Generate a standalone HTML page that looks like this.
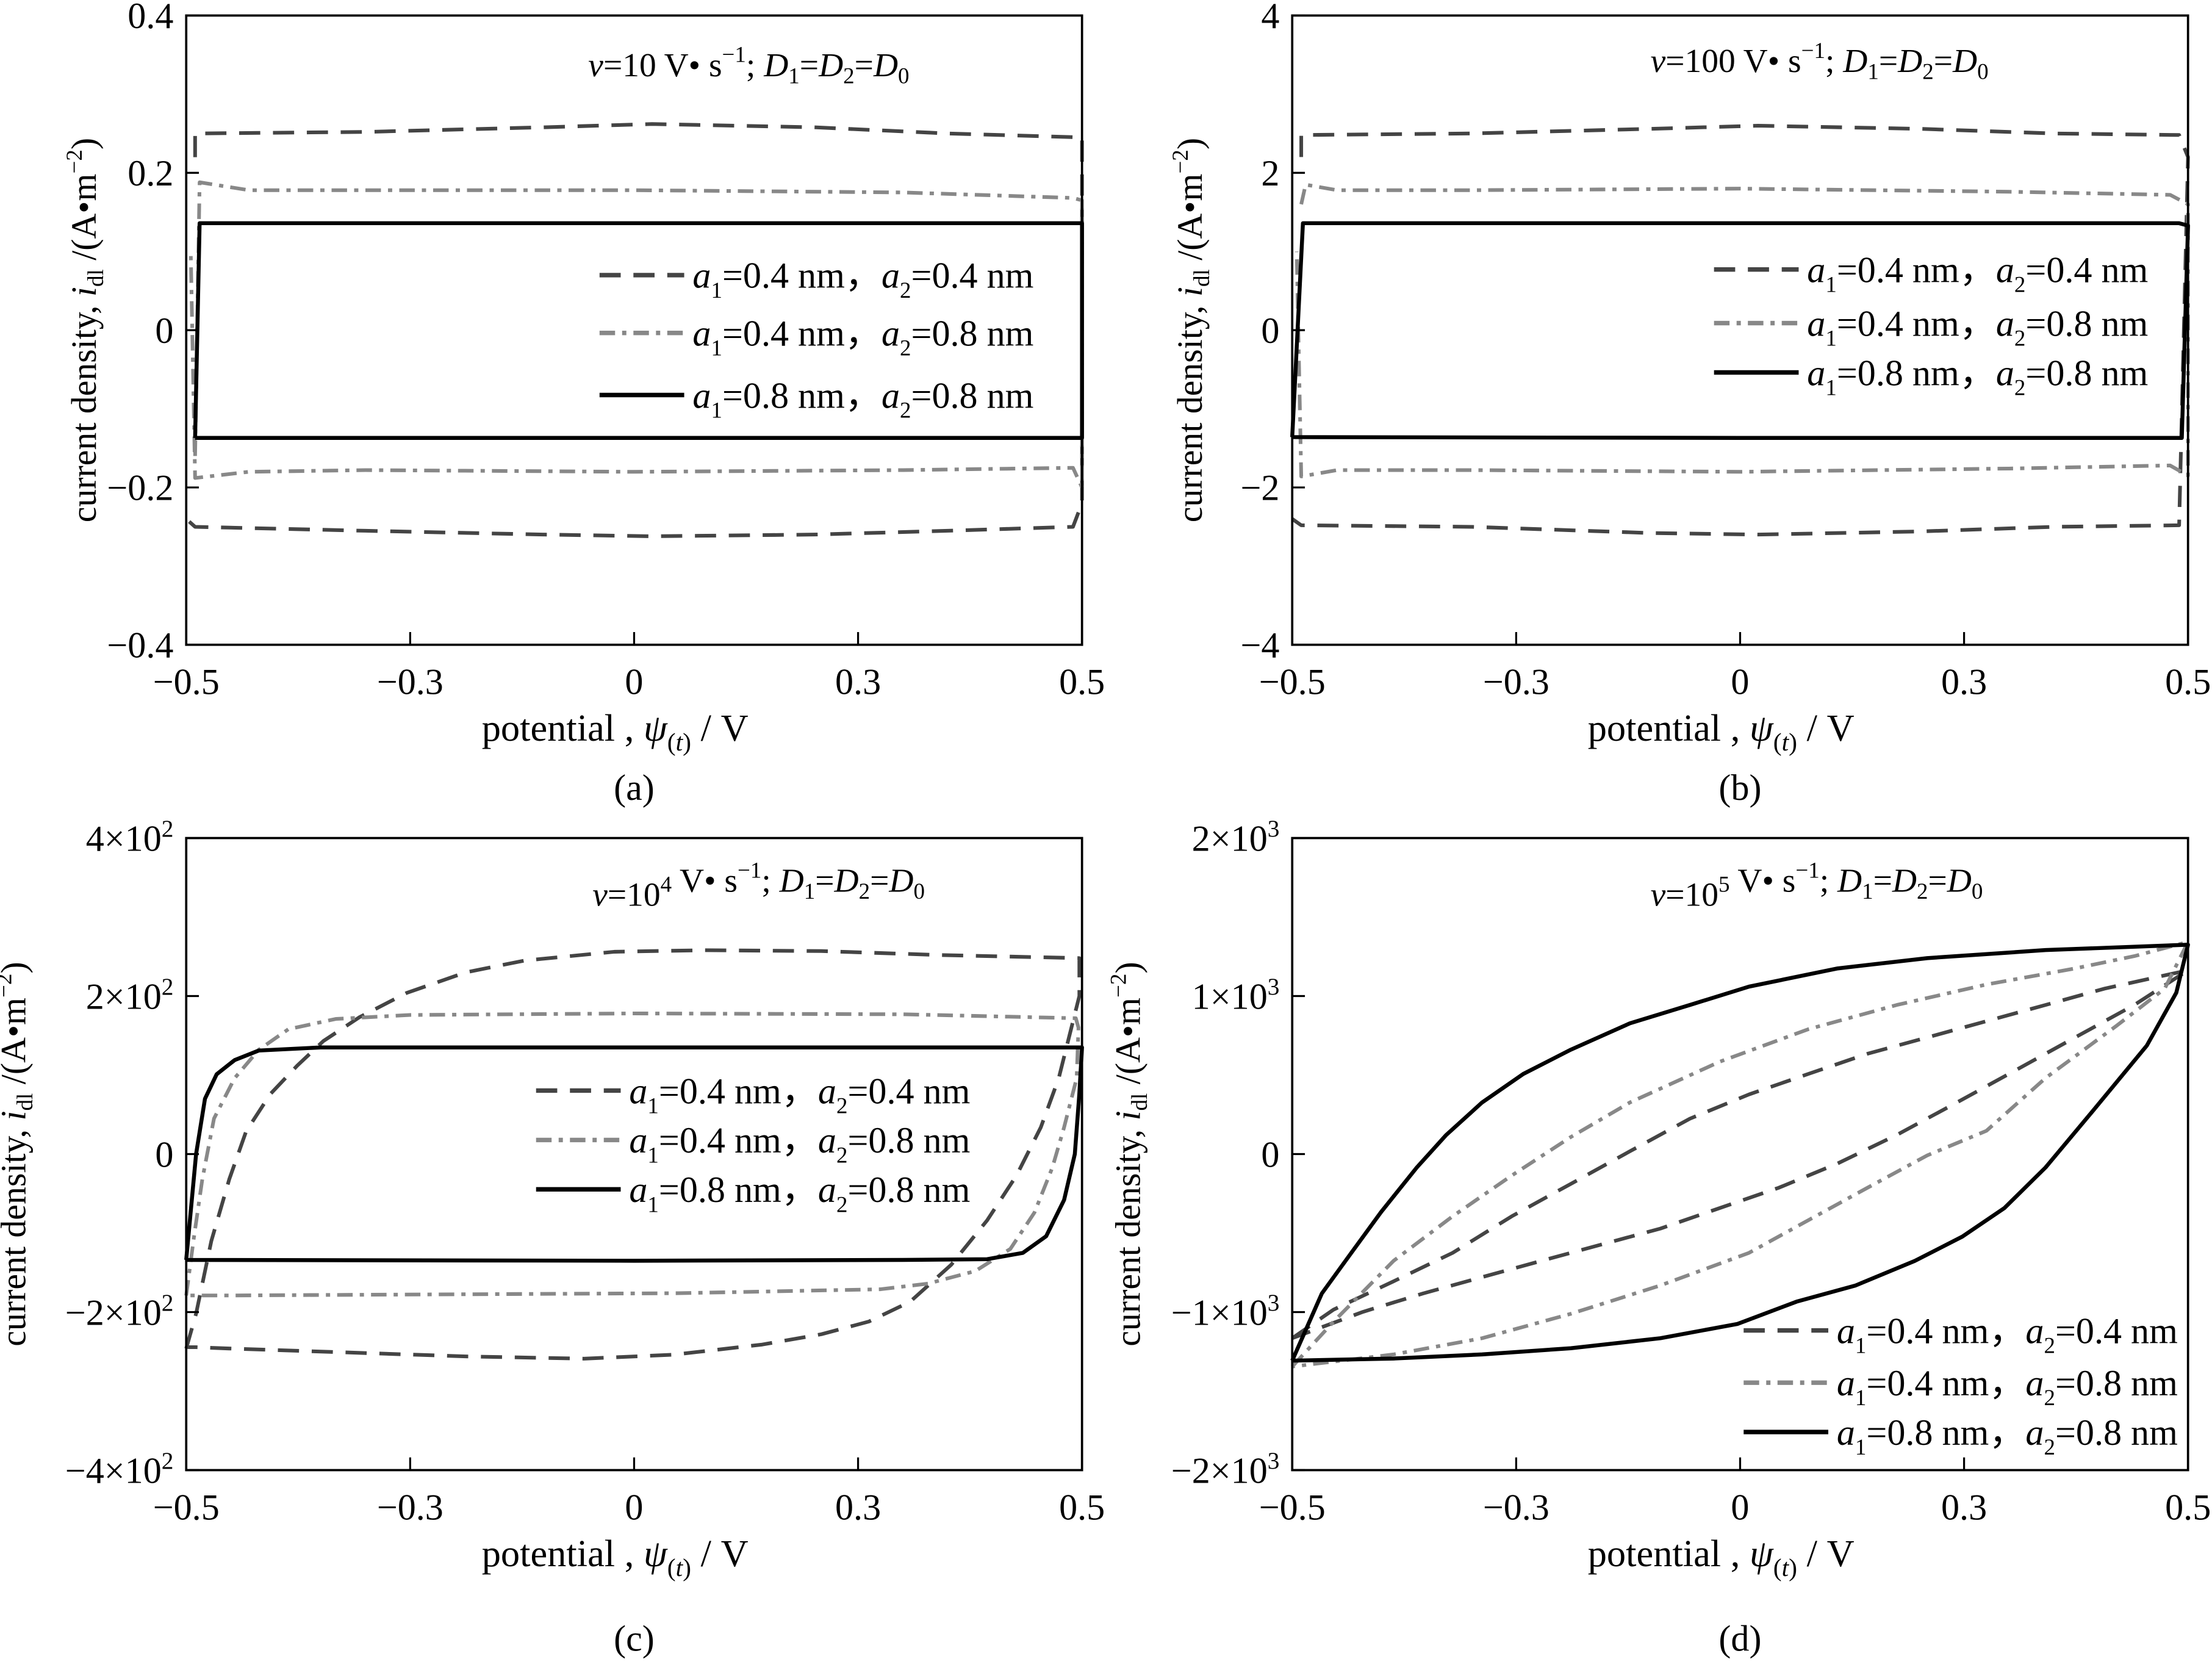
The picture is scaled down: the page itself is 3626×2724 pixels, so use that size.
<!DOCTYPE html>
<html><head><meta charset="utf-8"><style>
html,body{margin:0;padding:0;background:#fff}
svg{display:block}
text{font-family:"Liberation Serif",serif;fill:#000}
</style></head><body>
<svg id="fig" xmlns="http://www.w3.org/2000/svg" width="3626" height="2724" viewBox="0 0 1568 1178" preserveAspectRatio="none">
<rect width="1568" height="1178" fill="#fff"/>
</svg>
<script>
// ---------- data ----------
const xTickValues = [-0.5, -0.25, 0, 0.25, 0.5];
const xTickLabels = ["\u22120.5", "\u22120.3", "0", "0.3", "0.5"];

const yTicksA = [-0.4, -0.2, 0, 0.2, 0.4];
const yLabelsA = ["\u22120.4", "\u22120.2", "0", "0.2", "0.4"];
const yTicksB = [-4, -2, 0, 2, 4];
const yLabelsB = ["\u22124", "\u22122", "0", "2", "4"];
const yTicksC = [-400, -200, 0, 200, 400];
const yLabelsC = [["\u22124\u00d710","2"], ["\u22122\u00d710","2"], ["0",""], ["2\u00d710","2"], ["4\u00d710","2"]];
const yTicksD = [-2000, -1000, 0, 1000, 2000];
const yLabelsD = [["\u22122\u00d710","3"], ["\u22121\u00d710","3"], ["0",""], ["1\u00d710","3"], ["2\u00d710","3"]];

// panel (a): v = 10 V/s
const aDashX = [-0.49,-0.49,-0.3,-0.1,0.02,0.2,0.35,0.5,0.5,0.49,0.35,0.2,0.02,-0.1,-0.3,-0.49,-0.5];
const aDashY = [0.22,0.25,0.252,0.258,0.262,0.258,0.25,0.245,-0.22,-0.25,-0.255,-0.26,-0.262,-0.26,-0.255,-0.25,-0.24];
const aDotX = [-0.49,-0.485,-0.43,-0.3,0,0.3,0.49,0.5,0.5,0.49,0.3,0,-0.3,-0.43,-0.49,-0.495];
const aDotY = [-0.16,0.188,0.178,0.178,0.178,0.175,0.168,0.165,-0.2,-0.175,-0.178,-0.18,-0.178,-0.18,-0.188,0.1];
const aSolidX = [-0.49,-0.485,0,0.5,0.5,0.49,0,-0.49];
const aSolidY = [-0.137,0.136,0.136,0.136,-0.137,-0.137,-0.137,-0.137];

// panel (b): v = 100 V/s
const bDashX = [-0.49,-0.49,-0.3,-0.1,0.02,0.2,0.35,0.49,0.5,0.49,0.35,0.2,0.02,-0.1,-0.3,-0.49,-0.5];
const bDashY = [2.2,2.48,2.5,2.56,2.6,2.56,2.5,2.48,2.2,-2.48,-2.5,-2.56,-2.6,-2.58,-2.5,-2.48,-2.4];
const bDotX = [-0.49,-0.485,-0.45,-0.3,0,0.3,0.48,0.5,0.5,0.48,0.3,0,-0.3,-0.45,-0.49,-0.495];
const bDotY = [1.6,1.85,1.78,1.78,1.8,1.76,1.72,1.6,-1.85,-1.72,-1.76,-1.8,-1.78,-1.78,-1.86,1.0];
const bSolidX = [-0.5,-0.488,0,0.49,0.5,0.493,0,-0.5];
const bSolidY = [-1.36,1.36,1.36,1.36,1.33,-1.37,-1.37,-1.36];

// panel (c): v = 1e4 V/s
const cDashX = [-0.5,-0.489,-0.472,-0.452,-0.433,-0.406,-0.376,-0.347,-0.307,-0.254,-0.188,-0.122,-0.022,0.077,0.209,0.341,0.497,0.497,0.474,0.454,0.427,0.394,0.354,0.308,0.262,0.209,0.143,0.044,-0.056,-0.188,-0.32,-0.452,-0.5];
const cDashY = [-246,-202,-110,-32,29,76,112,143,173,204,230,245,256,258,257,252,248,200,96,34,-27,-84,-140,-187,-212,-228,-241,-254,-259,-256,-251,-246,-244];
const cDotX = [-0.5,-0.492,-0.482,-0.469,-0.446,-0.419,-0.386,-0.333,-0.25,0,0.3,0.493,0.496,0.494,0.48,0.467,0.447,0.42,0.381,0.328,0.275,0.05,-0.3,-0.45,-0.5];
const cDotY = [-179,-110,-32,45,96,132,158,171,176,178,177,172,160,96,34,-17,-74,-120,-148,-164,-171,-176,-178,-179,-179];
const cSolidX = [-0.5,-0.489,-0.479,-0.466,-0.446,-0.419,-0.35,0,0.5,0.497,0.492,0.48,0.46,0.434,0.394,0.3,0,-0.5];
const cSolidY = [-134,0,70,101,119,131,135,135,135,76,0,-58,-104,-125,-133,-134,-135,-134];

// panel (d): v = 1e5 V/s
const dDashX = [-0.5,-0.454,-0.387,-0.321,-0.255,-0.189,-0.123,-0.056,0.01,0.076,0.142,0.209,0.275,0.341,0.407,0.5,0.44,0.374,0.308,0.242,0.175,0.109,0.043,-0.023,-0.089,-0.156,-0.222,-0.288,-0.354,-0.421,-0.5];
const dDashY = [-1165,-985,-805,-625,-394,-188,18,224,378,507,635,738,841,944,1047,1163,944,738,532,327,121,-59,-213,-342,-471,-574,-676,-779,-882,-998,-1165];
const dDotX = [-0.5,-0.454,-0.387,-0.321,-0.255,-0.189,-0.123,-0.023,0.076,0.175,0.275,0.374,0.44,0.5,0.474,0.421,0.341,0.275,0.209,0.142,0.076,0.01,-0.089,-0.189,-0.288,-0.387,-0.5];
const dDotY = [-1345,-1062,-676,-394,-136,108,327,584,790,944,1073,1175,1253,1343,1047,815,481,147,-8,-213,-419,-625,-831,-1011,-1165,-1268,-1345];
const dSolidX = [-0.5,-0.467,-0.434,-0.401,-0.361,-0.328,-0.288,-0.242,-0.189,-0.123,-0.056,0.01,0.109,0.209,0.341,0.5,0.487,0.454,0.394,0.341,0.295,0.248,0.195,0.129,0.063,-0.003,-0.089,-0.189,-0.288,-0.387,-0.5];
const dSolidY = [-1307,-882,-625,-368,-85,121,327,507,661,828,944,1060,1175,1240,1291,1325,1021,687,275,-85,-342,-522,-676,-831,-934,-1075,-1165,-1229,-1268,-1294,-1307];

// ---------- drawing ----------
const NS = "http://www.w3.org/2000/svg";
const svg = document.getElementById("fig");
function el(tag, attrs, parent) {
  const e = document.createElementNS(NS, tag);
  for (const k in attrs) e.setAttribute(k, attrs[k]);
  (parent || svg).appendChild(e);
  return e;
}
const styles = {
  dash: {stroke: "#444", "stroke-width": 2.6, "stroke-dasharray": "15 9"},
  dot: {stroke: "#888", "stroke-width": 2.6, "stroke-dasharray": "11 5 3 5"},
  solid: {stroke: "#000", "stroke-width": 2.8}
};
const legendLabels = [["0.4","0.4"],["0.4","0.8"],["0.8","0.8"]];

function panel(cfg) {
  const g = el("g", {});
  
  
  const sx = v => cfg.L + (v + 0.5) * (cfg.R - cfg.L);
  const sy = v => cfg.B - (v - cfg.ymin) / (cfg.ymax - cfg.ymin) * (cfg.B - cfg.T);
  cfg.series.forEach((s, i) => {
    let d = "";
    for (let k = 0; k < s.x.length; k++) d += (k ? "L" : "M") + sx(s.x[k]).toFixed(1) + " " + sy(s.y[k]).toFixed(1);
    const p = el("path", Object.assign({d: d, fill: "none", "stroke-linejoin": "round"}, styles[s.style]), g);
    
    
  });
  const fr = el("rect", {x: cfg.L, y: cfg.T, width: cfg.R - cfg.L, height: cfg.B - cfg.T, fill: "none", stroke: "#000", "stroke-width": 1.6}, g);
  
  
  xTickValues.forEach((v, i) => {
    const x = sx(v);
    const t = el("line", {x1: x, x2: x, y1: cfg.B, y2: cfg.B - 9, stroke: "#000", "stroke-width": 1.4}, g);
    
    
    const lb = el("text", {x: x, y: cfg.B + 35, "font-size": 26, "text-anchor": "middle"}, g);
    lb.textContent = xTickLabels[i];
    
    
  });
  cfg.yticks.forEach((v, i) => {
    const y = sy(v);
    const t = el("line", {x1: cfg.L, x2: cfg.L + 9, y1: y, y2: y, stroke: "#000", "stroke-width": 1.4}, g);
    
    
    const lb = el("text", {x: cfg.L - 9, y: y + 9, "font-size": 26, "text-anchor": "end"}, g);
    
    
    const l = cfg.ylabels[i];
    if (Array.isArray(l)) {
      const a = el("tspan", {}, lb); a.textContent = l[0];
      if (l[1]) { const b = el("tspan", {dy: -10, "font-size": 17}, lb); b.textContent = l[1]; }
    } else lb.textContent = l;
  });
  const cy = (cfg.T + cfg.B) / 2, ylx = cfg.L - cfg.ytOff;
  const yt = el("text", {x: ylx, y: cy, "font-size": 25, "text-anchor": "middle", transform: "rotate(-90 " + ylx + " " + cy + ")"}, g);
  
  
  yt.innerHTML = 'current density, <tspan font-style="italic">i</tspan><tspan font-size="16" dy="5">dl</tspan><tspan dy="-5"> /(A\u2022m</tspan><tspan font-size="16" dy="-10">\u22122</tspan><tspan dy="10">)</tspan>';
  const cx = (cfg.L + cfg.R) / 2;
  const xt = el("text", {x: cx - 108, y: cfg.B + 68, "font-size": 27}, g);
  
  
  xt.innerHTML = 'potential , <tspan font-style="italic">\u03c8</tspan><tspan font-size="18" dy="7">(<tspan font-style="italic">t</tspan>)</tspan><tspan dy="-7"> / V</tspan>';
  const cap = el("text", {x: cx, y: cfg.capY, "font-size": 26, "text-anchor": "middle"}, g);
  cap.textContent = cfg.caption;
  
  
  const an = el("text", {x: cfg.annX, y: cfg.annY, "font-size": 24}, g);
  
  
  an.innerHTML = '<tspan font-style="italic">v</tspan>=' + cfg.ann + ' V\u2022 s<tspan font-size="16" dy="-10">\u22121</tspan><tspan dy="10">; </tspan><tspan font-style="italic">D</tspan><tspan font-size="16" dy="5">1</tspan><tspan dy="-5">=</tspan><tspan font-style="italic">D</tspan><tspan font-size="16" dy="5">2</tspan><tspan dy="-5">=</tspan><tspan font-style="italic">D</tspan><tspan font-size="16" dy="5">0</tspan>';
  ["dash","dot","solid"].forEach((st, i) => {
    const y = cfg.legY[i];
    const ln = el("line", Object.assign({x1: cfg.legX, x2: cfg.legX + 60, y1: y, y2: y}, styles[st], {"stroke-width": 3.2}), g);
    
    
    const tx = el("text", {x: cfg.legX + 66, y: y + 9, "font-size": 26}, g);
    
    
    tx.innerHTML = '<tspan font-style="italic">a</tspan><tspan font-size="16" dy="7">1</tspan><tspan dy="-7">=' + legendLabels[i][0] + ' nm\uff0c</tspan><tspan font-style="italic">a</tspan><tspan font-size="16" dy="7">2</tspan><tspan dy="-7">=' + legendLabels[i][1] + ' nm</tspan>';
  });
}

panel({name: "panel-a", L: 132, R: 767, T: 11, B: 457, ymin: -0.4, ymax: 0.4, yticks: yTicksA, ylabels: yLabelsA, ytOff: 64,
  series: [{x: aDashX, y: aDashY, style: "dash"}, {x: aDotX, y: aDotY, style: "dot"}, {x: aSolidX, y: aSolidY, style: "solid"}],
  caption: "(a)", capY: 567, ann: "10", annX: 417, annY: 54, legX: 425, legY: [195, 236, 280]});
panel({name: "panel-b", L: 916, R: 1551, T: 11, B: 457, ymin: -4, ymax: 4, yticks: yTicksB, ylabels: yLabelsB, ytOff: 64,
  series: [{x: bDashX, y: bDashY, style: "dash"}, {x: bDotX, y: bDotY, style: "dot"}, {x: bSolidX, y: bSolidY, style: "solid"}],
  caption: "(b)", capY: 567, ann: "100", annX: 1170, annY: 51, legX: 1215, legY: [191, 229, 264]});
panel({name: "panel-c", L: 132, R: 767, T: 594, B: 1042, ymin: -400, ymax: 400, yticks: yTicksC, ylabels: yLabelsC, ytOff: 114,
  series: [{x: cDashX, y: cDashY, style: "dash"}, {x: cDotX, y: cDotY, style: "dot"}, {x: cSolidX, y: cSolidY, style: "solid"}],
  caption: "(c)", capY: 1170, ann: "10<tspan font-size=\"16\" dy=\"-10\">4</tspan><tspan dy=\"10\"></tspan>", annX: 420, annY: 642, legX: 380, legY: [773, 808, 843]});
panel({name: "panel-d", L: 916, R: 1551, T: 594, B: 1042, ymin: -2000, ymax: 2000, yticks: yTicksD, ylabels: yLabelsD, ytOff: 108,
  series: [{x: dDashX, y: dDashY, style: "dash"}, {x: dDotX, y: dDotY, style: "dot"}, {x: dSolidX, y: dSolidY, style: "solid"}],
  caption: "(d)", capY: 1170, ann: "10<tspan font-size=\"16\" dy=\"-10\">5</tspan><tspan dy=\"10\"></tspan>", annX: 1170, annY: 642, legX: 1236, legY: [943, 980, 1015]});
</script>
</body></html>
